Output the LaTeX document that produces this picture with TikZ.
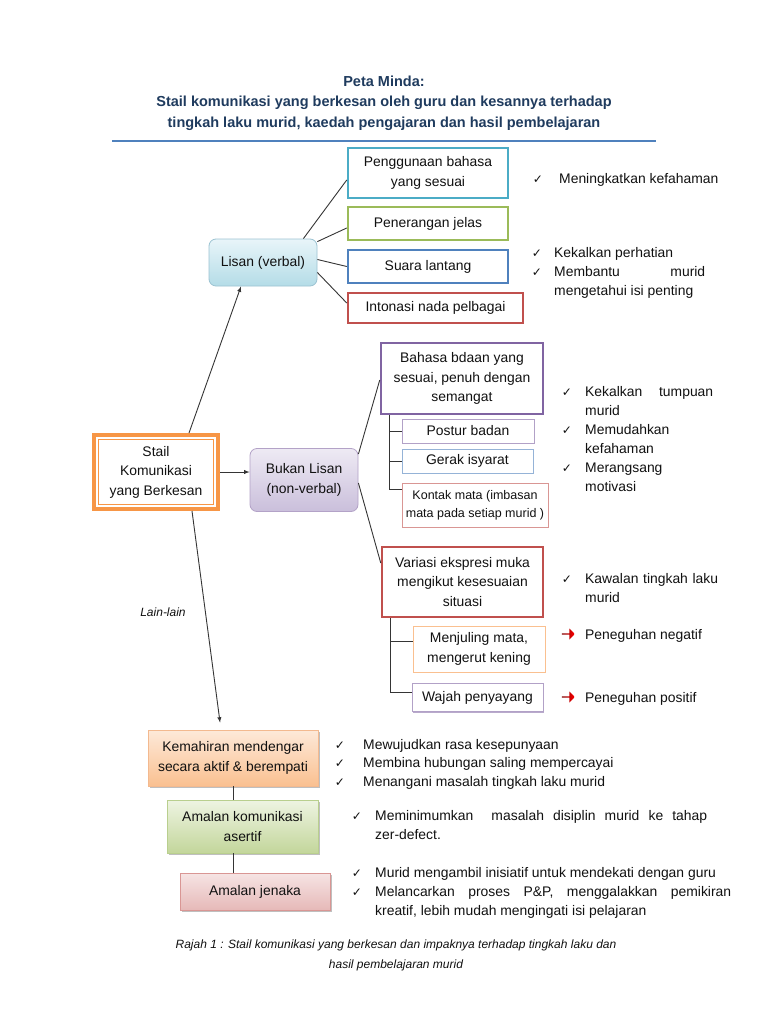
\documentclass[tikz,border=0pt]{standalone}
\usepackage{fontspec}
\setmainfont{Liberation Sans}
\newfontfamily\symfont{DejaVu Sans}
\usetikzlibrary{calc,shapes.arrows,shadows}

\hyphenpenalty=10000
\exhyphenpenalty=10000
\tolerance=9999

\definecolor{ink}{HTML}{111111}
\definecolor{titleblue}{HTML}{1F3B5E}
\definecolor{ruleblue}{HTML}{4F81BD}
\definecolor{tealc}{HTML}{4BACC6}
\definecolor{greenc}{HTML}{9BBB59}
\definecolor{bluec}{HTML}{4F81BD}
\definecolor{redc}{HTML}{C0504D}
\definecolor{purplec}{HTML}{8064A2}
\definecolor{orangec}{HTML}{F79646}
\definecolor{lisantop}{HTML}{E8F5F9}
\definecolor{lisanbot}{HTML}{B4DCE7}
\definecolor{lisanline}{HTML}{9CC3D2}
\definecolor{bukantop}{HTML}{EEEAF4}
\definecolor{bukanbot}{HTML}{CABFDB}
\definecolor{bukanline}{HTML}{B3A2C7}
\definecolor{posturc}{HTML}{B2A1C7}
\definecolor{gerakc}{HTML}{95B3D7}
\definecolor{kontakc}{HTML}{D99694}
\definecolor{menjc}{HTML}{FAC090}
\definecolor{kemtop}{HTML}{FDE9D9}
\definecolor{kembot}{HTML}{FAC090}
\definecolor{kemline}{HTML}{F3B98F}
\definecolor{akomtop}{HTML}{EEF4E2}
\definecolor{akombot}{HTML}{C3D69B}
\definecolor{akomline}{HTML}{B9CF8E}
\definecolor{jentop}{HTML}{F6E4E4}
\definecolor{jenbot}{HTML}{E6B9B8}
\definecolor{jenline}{HTML}{D99694}

\newcommand{\chk}{{\symfont\fontsize{12}{14}\selectfont ✓}}

\tikzset{
  txt/.style={font=\fontsize{13.9}{19.5}\selectfont, text=ink, inner sep=0pt, align=center},
  box/.style={txt, draw=#1, line width=2.5pt, fill=white},
  subbox/.style={txt, draw=#1, line width=1pt, fill=white,
    drop shadow={shadow xshift=1.3pt, shadow yshift=-1.3pt, fill=#1, opacity=.9}},
  lisanbox/.style={txt, rounded corners=7pt, draw=lisanline, line width=.8pt,
    top color=lisantop, bottom color=lisanbot},
  bukanbox/.style={txt, rounded corners=7pt, draw=bukanline, line width=.8pt,
    top color=bukantop, bottom color=bukanbot},
  flowbox/.style n args={3}{txt, draw=#1, line width=.8pt, top color=#2, bottom color=#3,
    drop shadow={shadow xshift=1.5pt, shadow yshift=-1.5pt, fill=black, opacity=.25}},
  note/.style={font=\fontsize{13.9}{19.5}\selectfont, text=ink, inner sep=0pt, anchor=base west},
  tick/.style={inner sep=0pt, anchor=base, text=ink},
  redarr/.style={single arrow, single arrow head extend=1.8pt, minimum height=13pt,
    minimum width=11pt, inner sep=0pt, left color=red!50!black, right color=red, draw=none},
  conn/.style={draw=ink!85, line width=.9pt},
}

\begin{document}
\begin{tikzpicture}[x=1pt,y=-1pt,>=latex]
\useasboundingbox[fill=white] (0,0) rectangle (768,1024);

% title
\node[font=\bfseries\fontsize{14.5}{20.5}\selectfont, text=titleblue, align=center, inner sep=0pt]
  (title) at (384,103) {Peta Minda:\\
  Stail komunikasi yang berkesan oleh guru dan kesannya terhadap\\
  tingkah laku murid, kaedah pengajaran dan hasil pembelajaran};
\draw[ruleblue, line width=1.5pt] (112,141) -- (656,141);

% lisan (verbal)
\node[lisanbox, minimum width=108pt, minimum height=47pt] (lisan) at (263,262.5) {Lisan (verbal)};
\node[box=tealc, minimum width=160pt, minimum height=50pt] (guna) at (428,173) {Penggunaan bahasa\\ yang sesuai};
\node[box=greenc, minimum width=160pt, minimum height=33pt] (terang) at (428,223.5) {Penerangan jelas};
\node[box=bluec, minimum width=160pt, minimum height=33pt] (suara) at (428,266.5) {Suara lantang};
\node[box=redc, minimum width=175pt, minimum height=30pt] (inton) at (435.5,308) {Intonasi nada pelbagai};
\draw[conn] ([xshift=-14pt]lisan.north east) -- ([yshift=-7pt]guna.west);
\draw[conn] ([yshift=-3pt]lisan.north east) -- ([yshift=-4.5pt]terang.west);
\draw[conn] ([yshift=3pt]lisan.east) -- (suara.west);
\draw[conn] ([yshift=-10pt]lisan.east) -- ([yshift=5pt]inton.west);

\node[tick] (c1) at (538,184) {\chk};
\node[note] (n1) at (559,184) {Meningkatkan kefahaman};
\node[tick] (c2) at (537,257) {\chk};
\node[note] (n2) at (554,257) {Kekalkan perhatian};
\node[tick] (c3) at (537,276) {\chk};
\node[note, text width=151pt, align=justify] (n3) at (554,276) {Membantu murid mengetahui isi penting};

% stail komunikasi
\node[txt, draw=orangec, line width=4pt, fill=white, minimum width=124pt, minimum height=74pt]
  (stail) at (156,472) {Stail\\ Komunikasi\\ yang Berkesan};
\draw[orangec, line width=.9pt] ([shift={(6.5pt,-6.5pt)}]stail.north west) rectangle ([shift={(-6.5pt,6.5pt)}]stail.south east);

% bukan lisan (non-verbal)
\node[bukanbox, minimum width=108pt, minimum height=63pt] (bukan) at (304,480) {Bukan Lisan\\ (non-verbal)};
\draw[conn, ->] (stail.east) -- (stail.east -| bukan.west);
\draw[conn, ->] ([xshift=33pt]stail.north) -- ([xshift=-22pt]lisan.south);

\node[box=purplec, minimum width=162pt, minimum height=71pt] (bahasa) at (462,378.5) {Bahasa bdaan yang\\ sesuai, penuh dengan\\ semangat};
\node[subbox=posturc, minimum width=132pt, minimum height=24pt] (postur) at (468,431) {Postur badan};
\node[subbox=gerakc, minimum width=131pt, minimum height=24pt] (gerak) at (467.5,461) {Gerak isyarat};
\node[subbox=kontakc, minimum width=146pt, minimum height=44pt, font=\fontsize{12.5}{18}\selectfont]
  (kontak) at (475,505) {Kontak mata (imbasan\\ mata pada setiap murid )};
\draw[conn] ([yshift=-6pt]bukan.north east) -- ([yshift=-1.5pt]bahasa.west);
\coordinate (bx1) at ([xshift=10pt]bahasa.south west);
\draw[conn] (bx1) |- ([yshift=16pt]kontak.west);
\draw[conn] (bx1 |- postur.west) -- (postur.west);
\draw[conn] (bx1 |- gerak.west) -- (gerak.west);

\foreach \yb/\txt in {396/{Kekalkan tumpuan murid}, 434/{Memudahkan kefahaman}, 472/{Merangsang motivasi}}
{
  \node[tick] at (567,\yb) {\chk};
  \node[note, text width=128pt, align=justify] at (585,\yb) {\txt};
}

\node[box=redc, minimum width=161pt, minimum height=70pt] (variasi) at (462.5,582) {Variasi ekspresi muka\\ mengikut kesesuaian\\ situasi};
\node[subbox=menjc, minimum width=132pt, minimum height=46pt] (menj) at (479,649) {Menjuling mata,\\ mengerut kening};
\node[subbox=posturc, minimum width=131pt, minimum height=28pt] (wajah) at (477.5,697.5) {Wajah penyayang};
\draw[conn] ([yshift=-3pt]bukan.east) -- ([yshift=19pt]variasi.west);
\coordinate (bx2) at ([xshift=10pt]variasi.south west);
\coordinate (menjtick) at ([yshift=8pt]menj.west);
\draw[conn] (bx2) |- ([yshift=5pt]wajah.west);
\draw[conn] (bx2 |- menjtick) -- (menjtick);

\node[tick] (c4) at (567,583) {\chk};
\node[note, text width=136pt, align=left] (n4) at (585,583) {Kawalan tingkah laku murid};
\node[redarr] (r1) at (568,634) {};
\node[note] (n5) at (585,639) {Peneguhan negatif};
\node[redarr] (r2) at (568,697) {};
\node[note] (n6) at (585,702) {Peneguhan positif};

% lain-lain
\node[flowbox={kemline}{kemtop}{kembot}, minimum width=170pt, minimum height=56pt] (kem) at (233,758) {Kemahiran mendengar\\ secara aktif \& berempati};
\node[flowbox={akomline}{akomtop}{akombot}, minimum width=151pt, minimum height=53pt] (akom) at (242.5,826.5) {Amalan komunikasi\\ asertif};
\node[flowbox={jenline}{jentop}{jenbot}, minimum width=150pt, minimum height=37pt] (jenaka) at (255,891.5) {Amalan jenaka};
\draw[conn, ->, shorten >=7pt] ([xshift=36pt]stail.south) -- ([xshift=-12pt]kem.north);
\node[font=\itshape\fontsize{12}{14}\selectfont, text=ink, inner sep=0pt] (lain) at (163,612) {Lain-lain};
\draw[conn] (kem.south) -- (kem.south |- akom.north);
\draw[conn] (kem.south |- akom.south) -- (kem.south |- jenaka.north);

\foreach \yb/\txt in {749/{Mewujudkan rasa kesepunyaan}, 767/{Membina hubungan saling mempercayai}, 786/{Menangani masalah tingkah laku murid}}
{
  \node[tick] at (340,\yb) {\chk};
  \node[note] at (363,\yb) {\txt};
}
\node[tick] (c5) at (357,820) {\chk};
\node[note, text width=332pt, align=justify] (n7) at (375,820) {Meminimumkan \ masalah disiplin murid ke tahap zer-defect.};
\node[tick] (c6) at (357,877) {\chk};
\node[note] (n8) at (375,877) {Murid mengambil inisiatif untuk mendekati dengan guru};
\node[tick] (c7) at (357,896) {\chk};
\node[note, text width=356pt, align=justify] (n9) at (375,896) {Melancarkan proses P\&P, menggalakkan pemikiran\linebreak{} kreatif, lebih mudah mengingati isi pelajaran};

% caption
\node[font=\itshape\fontsize{12}{20}\selectfont, text=ink, align=center, inner sep=0pt] (caption) at (396,955)
  {Rajah 1 : Stail komunikasi yang berkesan dan impaknya terhadap tingkah laku dan\\ hasil pembelajaran murid};
\end{tikzpicture}
\end{document}
